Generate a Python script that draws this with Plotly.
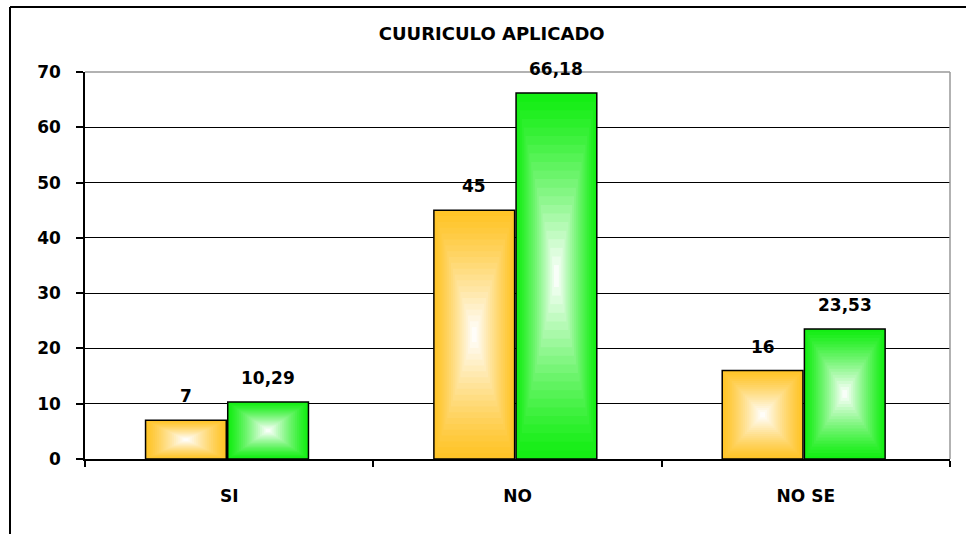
import plotly.graph_objects as go

categories = ["SI", "NO", "NO SE"]
series_a = [7, 45, 16]
series_b = [10.29, 66.18, 23.53]
y_ticks = [0, 10, 20, 30, 40, 50, 60, 70]
title_text = "CUURICULO APLICADO"

FONT = "DejaVu Sans"

def fmt(v):
    s = ("%.2f" % v).rstrip("0").rstrip(".")
    return s.replace(".", ",")

def mix(c, t):
    return "rgb(%d,%d,%d)" % tuple(round(a + (255 - a) * t) for a in c)

fig = go.Figure()

W = 0.28
CAT_PX = 865 / 3.0
groups = [
    (series_a, -0.29, (255, 196, 40)),
    (series_b, -0.005, (20, 238, 20)),
]
N = 20
annotations = []
for vals, off, col in groups:
    fig.add_trace(go.Bar(
        x=categories, y=vals, width=W, offset=off,
        marker=dict(color=mix(col, 0.0), line=dict(color="black", width=1.5)),
        cliponaxis=False, showlegend=False,
    ))
    for i in range(1, N + 1):
        t = 0.94 * i / N
        fig.add_trace(go.Bar(
            x=categories, y=[v * (1 - t) for v in vals],
            base=[v * t / 2 for v in vals],
            width=W * (1 - t), offset=off + W * t / 2,
            marker=dict(color=mix(col, (i / N) ** 1.2 * 0.97), line=dict(width=0)),
            hoverinfo="skip", showlegend=False,
        ))
    shift = (off + W / 2) * CAT_PX
    for c, v in zip(categories, vals):
        annotations.append(dict(
            x=c, y=v, xref="x", yref="y", text=fmt(v), showarrow=False,
            xanchor="center", yanchor="bottom", xshift=shift, yshift=12,
            font=dict(family=FONT, size=17, color="black", weight="bold"),
        ))

fig.update_layout(
    width=966, height=534,
    barmode="overlay",
    separators=",.",
    paper_bgcolor="white", plot_bgcolor="white",
    margin=dict(l=85, r=16, t=72, b=75),
    title=dict(text=title_text, x=0.509, xanchor="center", y=0.936, yanchor="middle",
               font=dict(family=FONT, size=18, color="black", weight="bold")),
    font=dict(family=FONT, size=17, color="black", weight="bold"),
    annotations=annotations,
    shapes=[
        dict(type="line", xref="paper", yref="paper", x0=(10 - 85) / 865, x1=(10 - 85) / 865,
             y0=(459 - 534) / 387, y1=(459 - 7) / 387, line=dict(color="black", width=2)),
        dict(type="line", xref="paper", yref="paper", x0=(10 - 85) / 865, x1=(966 - 85) / 865,
             y0=(459 - 7) / 387, y1=(459 - 7) / 387, line=dict(color="black", width=2)),
        dict(type="line", xref="paper", yref="paper", x0=0, x1=1, y0=1, y1=1,
             line=dict(color="#999999", width=1.5)),
        dict(type="line", xref="paper", yref="paper", x0=1, x1=1, y0=0, y1=1,
             line=dict(color="#999999", width=1.5)),
    ],
)
fig.update_xaxes(
    type="category", showgrid=False, showline=True, linecolor="black", linewidth=1.5,
    ticks="outside", tickson="boundaries", ticklen=6, tickcolor="black", tickwidth=1.5,
    ticklabelstandoff=21,
    tickfont=dict(family=FONT, size=17, color="black", weight="bold"),
)
fig.update_yaxes(
    range=[0, 70], tickvals=y_ticks, showgrid=True, gridcolor="black", gridwidth=1,
    showline=True, linecolor="black", linewidth=1.5, ticks="outside", ticklen=7,
    tickcolor="black", tickwidth=1.5, ticklabelstandoff=12, zeroline=False,
    tickfont=dict(family=FONT, size=17, color="black", weight="bold"),
)

fig.write_html("out.html", config={"displayModeBar": False},
               post_script="document.body.style.margin='0';")
